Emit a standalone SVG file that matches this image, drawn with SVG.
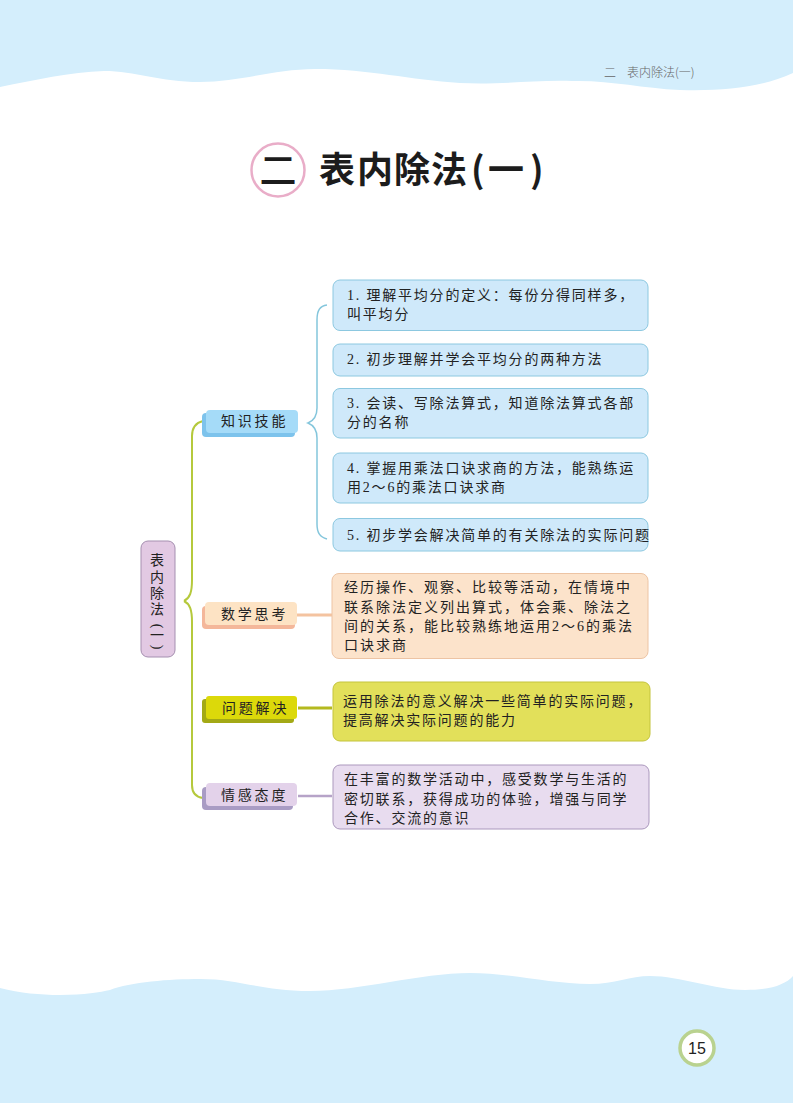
<svg xmlns="http://www.w3.org/2000/svg" width="793" height="1103" viewBox="0 0 793 1103">
<style>
text{font-family:"Liberation Serif","Noto Sans CJK SC",serif;font-size:14px;fill:#222;letter-spacing:1.8px}
.w{letter-spacing:2px}
.l{letter-spacing:2.8px}
.r{letter-spacing:0;text-anchor:middle}
.t{font-family:"Noto Sans CJK SC",sans-serif;font-weight:700;letter-spacing:0;fill:#1c1c1c}
.h{font-family:"Noto Sans CJK SC",sans-serif;font-weight:300;font-size:12px;fill:#666;letter-spacing:0}
.c{fill:none;stroke:#b5c93c;stroke-width:2}
.k{fill:#cfe9fa;stroke:#8cc8e0}
</style>
<rect width="793" height="1103" fill="#fff"/>
<path d="M0 0H793V73C760 88 725 91 680 90C640 88 610 80 572 81C530 80 500 85 460 83C410 80 370 69 315 69C275 69 240 82 200 82C160 82 135 71 104 71C70 72 35 80 0 87Z" fill="#d4eefc"/>
<path d="M0 988C20 993 40 995 60 995C85 995 100 992 110 990C130 982 170 979 200 979C240 979 260 991 310 991C360 991 420 973 470 973C510 973 550 984 590 984C615 984 630 976 650 976C680 976 715 990 745 990C770 990 785 985 793 976V1103H0Z" fill="#d4eefc"/>
<g id="header"><text x="604" y="77" class="h">二</text><text x="627" y="77" class="h">表内除法(一)</text></g>
<g id="title"><circle cx="278" cy="170" r="26.500" fill="#fff" stroke="#e9adc8" stroke-width="2.500"/>
<text x="278" y="184" text-anchor="middle" class="t" style="font-size:37px;font-weight:500">二</text>
<text x="319 357 394 431 471 488 530" y="183" class="t" style="font-size:36px">表内除法(一)</text></g>
<g id="connectors">
<path class="c" d="M184 601C190 598 192 592 192 580V436C192 428 195 423 203 421"/>
<path class="c" d="M184 601C190 604 192 610 192 622V785C192 792 195 797 203 798"/>
<path d="M297 615H332" stroke="#f4c3a0" stroke-width="3"/>
<path d="M298 708H332" stroke="#b4b91e" stroke-width="3"/>
<path d="M298 796H332" stroke="#b6a3c8" stroke-width="2.500"/>
<path d="M327 305C320 306 317 310 317 320V408C317 417 313 421 308 423C313 425 317 429 317 438V524C317 533 320 537 327 539" fill="none" stroke="#84c6dc" stroke-width="1.500"/>
</g>
<g id="root"><rect x="141" y="541" width="34" height="116" rx="7" fill="#e2c9e3" stroke="#a58fb0"/>
<text class="r" x="157" y="565">表</text><text class="r" x="157" y="582">内</text><text class="r" x="157" y="598">除</text><text class="r" x="157" y="614">法</text>
<text class="r" x="0" y="0" transform="translate(157 626) rotate(90)" dy="4">(</text><text class="r" x="157" y="640">一</text><text class="r" x="0" y="0" transform="translate(157 647) rotate(90)" dy="4">)</text></g>
<g id="n1"><rect x="202" y="413" width="93" height="24" rx="4" fill="#7dc3ec"/><rect x="206" y="410" width="92" height="23" rx="4" fill="#a5dbf8"/><text x="221" y="426" class="l">知识技能</text></g>
<g id="n2"><rect x="202" y="606" width="93" height="23" rx="4" fill="#f4b79a"/><rect x="205" y="602" width="92" height="23" rx="4" fill="#fde3c4"/><text x="221" y="619" class="l">数学思考</text></g>
<g id="n3"><rect x="202" y="699" width="92" height="24" rx="3" fill="#a3a915"/><rect x="206" y="696" width="91" height="23" rx="3" fill="#dcd90a"/><text x="222" y="713" class="l">问题解决</text></g>
<g id="n4"><rect x="202" y="787" width="91" height="23" rx="4" fill="#a99cc4"/><rect x="206" y="783" width="91" height="23" rx="4" fill="#e3d2ea"/><text x="221" y="800" class="l">情感态度</text></g>
<g id="k1"><rect x="333" y="280" width="315" height="50.500" rx="7" class="k"/><text x="347" y="300">1. 理解平均分的定义：每份分得同样多，</text><text x="347" y="319">叫平均分</text></g>
<g id="k2"><rect x="333" y="344" width="315" height="32" rx="7" class="k"/><text x="347" y="364">2. 初步理解并学会平均分的两种方法</text></g>
<g id="k3"><rect x="333" y="388.500" width="315" height="49.500" rx="7" class="k"/><text x="347" y="408">3. 会读、写除法算式，知道除法算式各部</text><text x="347" y="427">分的名称</text></g>
<g id="k4"><rect x="333" y="453" width="315" height="50" rx="7" class="k"/><text x="347" y="473">4. 掌握用乘法口诀求商的方法，能熟练运</text><text x="347" y="492">用2～6的乘法口诀求商</text></g>
<g id="k5"><rect x="333" y="518.500" width="315" height="32.500" rx="7" class="k"/><text x="347" y="540">5. 初步学会解决简单的有关除法的实际问题</text></g>
<g id="d1"><rect x="332" y="573.500" width="316" height="85" rx="7" fill="#fce3cb" stroke="#edc4a4"/><text x="344" y="592" class="w">经历操作、观察、比较等活动，在情境中</text><text x="344" y="612" class="w">联系除法定义列出算式，体会乘、除法之</text><text x="344" y="631" class="w">间的关系，能比较熟练地运用2～6的乘法</text><text x="344" y="650" class="w">口诀求商</text></g>
<g id="d2"><rect x="333" y="682" width="317" height="59" rx="7" fill="#e2e05a" stroke="#c4c43c"/><text x="343" y="706">运用除法的意义解决一些简单的实际问题，</text><text x="343" y="725">提高解决实际问题的能力</text></g>
<g id="d3"><rect x="333" y="765" width="316" height="64" rx="7" fill="#e8dcef" stroke="#ab98bd"/><text x="344" y="784">在丰富的数学活动中，感受数学与生活的</text><text x="344" y="804">密切联系，获得成功的体验，增强与同学</text><text x="344" y="823">合作、交流的意识</text></g>
<g id="page"><circle cx="697" cy="1048" r="17" fill="#fff" stroke="#b9d28f" stroke-width="3.500"/><text x="697" y="1054" text-anchor="middle" style="font-family:'Liberation Sans',sans-serif;font-size:16px;letter-spacing:0">15</text></g>
</svg>
